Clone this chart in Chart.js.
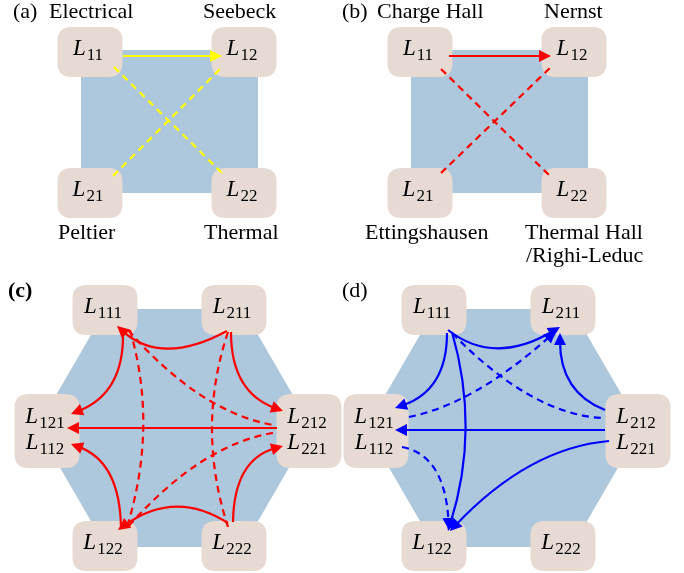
<!DOCTYPE html>
<html><head><meta charset="utf-8">
<script src="https://cdn.jsdelivr.net/npm/chart.js@4.4.1/dist/chart.umd.min.js"></script>
<style>html,body{margin:0;padding:0;background:#fff;}#wrap{width:684px;height:573px;}</style>
</head><body><div id="wrap"><canvas id="c" width="684" height="573"></canvas></div>
<script>
// ---------- data (in page units of the 684x573 figure) ----------
const shiftB = 330;               // panel (b) relative to (a)
const shiftD = 329;               // panel (d) relative to (c)

// panels (a)/(b): square background and its four nodes
const squareX = [81, 258];
const squareY = [50, 193];
const sqNodeX = [90, 244, 90, 244];
const sqNodeY = [52, 52, 193, 193];
const sqNodeSubs = [['11'], ['12'], ['21'], ['22']];

// panels (c)/(d): hexagon background and its six nodes
const hexX = [106, 243, 312, 243, 106, 37];
const hexY = [309, 309, 428, 547, 547, 428];
const hexNodeX = [105, 234, 47, 309, 105, 234];
const hexNodeY = [310, 310, 431, 431, 546, 546];
const hexNodeH = [50, 50, 74, 74, 50, 50];
const hexNodeSubs = [['111'], ['211'], ['121', '112'], ['212', '221'], ['122'], ['222']];

// edges: [x0, y0, cx, cy, x1, y1, dashed, arrow]  (cx=null => straight)
const edgesA = [
  [123, 56, null, null, 222, 56, 0, 1],
  [114, 67, null, null, 222, 173, 1, 0],
  [113, 176, null, null, 222, 67, 1, 0]
];
const edgesB = [
  [449, 56, null, null, 551, 56, 0, 1],
  [441, 69, null, null, 550, 176, 1, 0],
  [441, 173, null, null, 553, 65, 1, 0]
];
const edgesC = [
  [227, 331, 162, 366, 117, 326, 0, 1],
  [123, 333, 124, 393, 71, 414, 0, 1],
  [231, 332, 231, 392, 283, 411, 0, 1],
  [277, 428, null, null, 67, 428, 0, 1],
  [121, 528, 120, 462, 71, 444, 0, 1],
  [228, 523, 175, 489, 118, 530, 0, 1],
  [233, 522, 234, 460, 283, 446, 0, 1],
  [128, 330, 200, 412, 273, 425, 1, 0],
  [130, 330, 158, 426, 127, 527, 1, 0],
  [228, 332, 196, 428, 228, 527, 1, 0],
  [273, 433, 200, 445, 127, 528, 1, 0]
];
const edgesD = [
  [448, 330, 494, 366, 560, 327, 0, 1],
  [447, 333, 447, 390, 395, 408, 0, 1],
  [452, 332, 480, 429, 448, 531, 0, 1],
  [605, 410, 560, 392, 560, 333, 0, 1],
  [605, 430, null, null, 395, 430, 0, 1],
  [609, 441, 529, 448, 450, 531, 0, 1],
  [452, 333, 531, 414, 602, 418, 1, 0],
  [409, 417, 474, 404, 556, 331, 1, 1],
  [402, 447, 445, 455, 449, 530, 1, 1]
];
const edgeColorA = '#ffff00';
const edgeColorB = '#ff0000';
const edgeColorC = '#ff0000';
const edgeColorD = '#0000ff';

// plain text labels
const labelText = ['(a)', 'Electrical', 'Seebeck', 'Peltier', 'Thermal',
  '(b)', 'Charge Hall', 'Nernst', 'Ettingshausen', 'Thermal Hall', '/Righi-Leduc', '(c)', '(d)'];
const labelX = [13, 49, 203, 58, 204, 342, 377, 544, 365, 525, 526, 8, 342];
const labelY = [18, 18, 18, 239, 239, 18, 18, 18, 239, 239, 262, 297, 297];
const labelBold = [0, 0, 0, 0, 0, 0, 0, 0, 0, 0, 0, 1, 0];

// ---------- drawing ----------
const BG = '#adc7dc';
const NODE = '#e7dad2';
const SERIF = '"Liberation Serif", "Times New Roman", serif';

function roundRect(ctx, x, y, w, h, r) {
  ctx.beginPath();
  ctx.moveTo(x + r, y);
  ctx.lineTo(x + w - r, y); ctx.quadraticCurveTo(x + w, y, x + w, y + r);
  ctx.lineTo(x + w, y + h - r); ctx.quadraticCurveTo(x + w, y + h, x + w - r, y + h);
  ctx.lineTo(x + r, y + h); ctx.quadraticCurveTo(x, y + h, x, y + h - r);
  ctx.lineTo(x, y + r); ctx.quadraticCurveTo(x, y, x + r, y);
  ctx.closePath();
}

const diagram = {
  id: 'diagram',
  afterDatasetsDraw(chart) {
    const ctx = chart.ctx, sx = chart.scales.x, sy = chart.scales.y;
    const X = v => sx.getPixelForValue(v), Y = v => sy.getPixelForValue(v);
    ctx.save();

    // backgrounds
    ctx.fillStyle = BG;
    [0, shiftB].forEach(s => {
      ctx.fillRect(X(squareX[0] + s), Y(squareY[0]), X(squareX[1] + s) - X(squareX[0] + s), Y(squareY[1]) - Y(squareY[0]));
    });
    [0, shiftD].forEach(s => {
      ctx.beginPath();
      hexX.forEach((hx, i) => { const f = i ? 'lineTo' : 'moveTo'; ctx[f](X(hx + s), Y(hexY[i])); });
      ctx.closePath(); ctx.fill();
    });

    // nodes
    const nodes = [];
    [0, shiftB].forEach(s => sqNodeX.forEach((nx, i) => nodes.push({ x: nx + s, y: sqNodeY[i], h: 50, subs: sqNodeSubs[i] })));
    [0, shiftD].forEach(s => hexNodeX.forEach((nx, i) => nodes.push({ x: nx + s, y: hexNodeY[i], h: hexNodeH[i], subs: hexNodeSubs[i] })));
    ctx.fillStyle = NODE;
    nodes.forEach(n => {
      const w = 65;
      roundRect(ctx, X(n.x - w / 2), Y(n.y - n.h / 2), X(n.x + w / 2) - X(n.x - w / 2), Y(n.y + n.h / 2) - Y(n.y - n.h / 2), 14);
      ctx.fill();
    });

    // edges
    function drawEdges(list, color) {
      list.forEach(e => {
        const [x0, y0, cx, cy, x1, y1, dashed, arrow] = e;
        ctx.strokeStyle = color; ctx.fillStyle = color;
        ctx.lineWidth = 2.2; ctx.lineCap = 'butt';
        ctx.setLineDash(dashed ? [7, 5] : []);
        const px0 = X(x0), py0 = Y(y0), px1 = X(x1), py1 = Y(y1);
        let dx, dy;
        if (cx === null) { dx = px1 - px0; dy = py1 - py0; }
        else { dx = px1 - X(cx); dy = py1 - Y(cy); }
        const L = Math.hypot(dx, dy), ux = dx / L, uy = dy / L;
        const alen = 12, ahw = 6;
        const ex = arrow ? px1 - ux * alen * 0.7 : px1, ey = arrow ? py1 - uy * alen * 0.7 : py1;
        ctx.beginPath(); ctx.moveTo(px0, py0);
        if (cx === null) ctx.lineTo(ex, ey);
        else ctx.quadraticCurveTo(X(cx), Y(cy), ex, ey);
        ctx.stroke();
        ctx.setLineDash([]);
        if (arrow) {
          const bx = px1 - ux * alen, by = py1 - uy * alen;
          ctx.beginPath();
          ctx.moveTo(px1, py1);
          ctx.lineTo(bx - uy * ahw, by + ux * ahw);
          ctx.lineTo(bx + uy * ahw, by - ux * ahw);
          ctx.closePath(); ctx.fill();
        }
      });
    }
    drawEdges(edgesA, edgeColorA);
    drawEdges(edgesB, edgeColorB);
    drawEdges(edgesC, edgeColorC);
    drawEdges(edgesD, edgeColorD);

    // node labels: italic L with subscript
    ctx.fillStyle = '#000';
    ctx.textBaseline = 'alphabetic';
    nodes.forEach(n => {
      const k = n.subs.length;
      n.subs.forEach((sub, j) => {
        ctx.font = 'italic 23px ' + SERIF;
        const wL = ctx.measureText('L').width;
        ctx.font = '17px ' + SERIF;
        const wS = ctx.measureText(sub).width;
        const total = wL + 1 + wS;
        const baseY = k === 1 ? n.y + 3 : n.y - 8 + j * 26;
        const left = X(n.x - 2) - total / 2;
        ctx.font = 'italic 23px ' + SERIF;
        ctx.textAlign = 'left';
        ctx.fillText('L', left, Y(baseY));
        ctx.font = '17px ' + SERIF;
        ctx.fillText(sub, left + wL + 1, Y(baseY + 5));
      });
    });

    // text labels
    labelText.forEach((t, i) => {
      ctx.font = (labelBold[i] ? 'bold ' : '') + '22px ' + SERIF;
      ctx.textAlign = 'left';
      ctx.fillText(t, X(labelX[i]), Y(labelY[i]));
    });
    ctx.restore();
  }
};

new Chart(document.getElementById('c'), {
  type: 'scatter',
  data: { datasets: [{ data: hexNodeX.map((x, i) => ({ x, y: hexNodeY[i] })), pointRadius: 0 }] },
  options: {
    responsive: false, animation: false,
    layout: { padding: 0 },
    plugins: { legend: { display: false }, tooltip: { enabled: false } },
    scales: {
      x: { type: 'linear', min: 0, max: 684, display: false },
      y: { type: 'linear', min: 0, max: 573, reverse: true, display: false }
    }
  },
  plugins: [diagram]
});
</script></body></html>
